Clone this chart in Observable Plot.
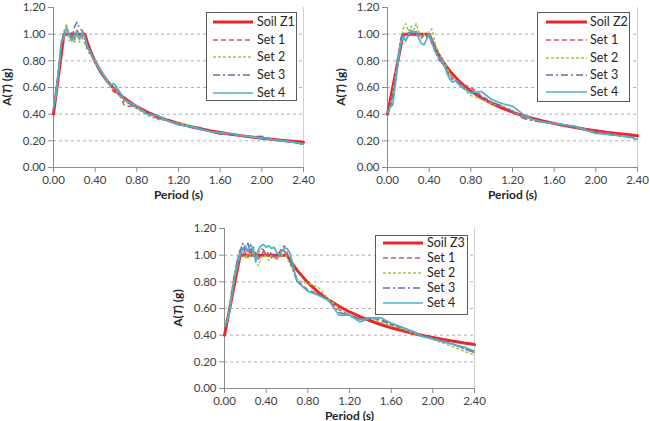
<!DOCTYPE html>
<html>
<head>
<meta charset="utf-8">
<script src="https://cdn.jsdelivr.net/npm/d3@7"></script>
<script src="https://cdn.jsdelivr.net/npm/@observablehq/plot@0.6"></script>
<style>
  html, body { margin: 0; padding: 0; background: #fff; }
  body { width: 650px; height: 421px; overflow: hidden; position: relative; font-family: Lato, "Open Sans", sans-serif; }
  .panel { position: absolute; }
  .legend { position: absolute; box-sizing: border-box; border: 1px solid #5a5a5a; background: #fff; }
</style>
</head>
<body>
<script>
// Periods (s) at which every spectrum is sampled
const periods = [
  0, 0.025, 0.05, 0.075, 0.1, 0.125, 0.15, 0.175, 0.2, 0.225, 0.25, 0.275, 0.3, 0.325, 0.35,
  0.375, 0.4, 0.425, 0.45, 0.475, 0.5, 0.525, 0.55, 0.575, 0.6, 0.625, 0.65, 0.675, 0.7,
  0.8, 0.9, 1.0, 1.1, 1.2, 1.3, 1.4, 1.5, 1.6, 1.7, 1.8, 1.9, 2.0, 2.1, 2.2, 2.3, 2.4
];

// Design spectra A(T) (g)
const soilZ1 = [0.40,0.55,0.70,0.85,1.00,1.00,1.00,1.00,1.00,1.00,1.00,1.00,1.00,0.938,0.884,0.837,0.794,0.757,0.723,0.692,0.664,0.639,0.616,0.594,0.574,0.556,0.539,0.523,0.508,0.456,0.415,0.382,0.354,0.330,0.310,0.292,0.276,0.262,0.250,0.239,0.229,0.219,0.211,0.203,0.196,0.189];
const soilZ2 = [0.40,0.50,0.60,0.70,0.80,0.90,1.00,1.00,1.00,1.00,1.00,1.00,1.00,1.00,1.00,1.00,1.00,0.953,0.910,0.872,0.837,0.804,0.775,0.748,0.723,0.700,0.678,0.658,0.639,0.574,0.523,0.480,0.445,0.415,0.389,0.367,0.347,0.330,0.314,0.300,0.287,0.276,0.265,0.256,0.247,0.238];
const soilZ3 = [0.40,0.50,0.60,0.70,0.80,0.90,1.00,1.00,1.00,1.00,1.00,1.00,1.00,1.00,1.00,1.00,1.00,1.00,1.00,1.00,1.00,1.00,1.00,1.00,1.00,0.968,0.938,0.910,0.884,0.794,0.723,0.664,0.616,0.574,0.539,0.508,0.480,0.456,0.435,0.415,0.398,0.382,0.367,0.354,0.341,0.330];

// Mean spectra of the record sets, soil Z1
const z1Set1 = [0.44,0.56,0.72,0.92,0.97,1.02,0.98,1.01,0.96,1.03,1.00,0.98,0.95,0.92,0.87,0.82,0.79,0.75,0.71,0.69,0.67,0.64,0.60,0.57,0.56,0.55,0.52,0.47,0.46,0.46,0.41,0.38,0.35,0.33,0.31,0.29,0.27,0.25,0.25,0.24,0.23,0.22,0.21,0.20,0.19,0.18];
const z1Set2 = [0.46,0.58,0.75,0.95,1.02,1.08,0.95,0.98,0.93,1.00,0.94,0.97,0.93,0.90,0.86,0.82,0.78,0.76,0.74,0.71,0.68,0.63,0.61,0.59,0.58,0.55,0.53,0.51,0.49,0.44,0.39,0.36,0.35,0.33,0.32,0.29,0.27,0.26,0.25,0.24,0.23,0.225,0.21,0.20,0.19,0.17];
const z1Set3 = [0.42,0.55,0.74,0.93,1.00,1.04,1.00,0.97,1.05,1.09,1.04,1.03,0.97,0.88,0.85,0.83,0.80,0.76,0.72,0.70,0.67,0.64,0.62,0.60,0.58,0.56,0.54,0.50,0.49,0.45,0.40,0.37,0.35,0.32,0.31,0.30,0.27,0.25,0.25,0.24,0.23,0.235,0.21,0.20,0.19,0.175];
const z1Set4 = [0.45,0.55,0.73,0.94,0.98,1.05,1.00,0.95,0.99,1.02,0.96,1.01,0.98,0.91,0.87,0.83,0.80,0.76,0.73,0.70,0.66,0.63,0.62,0.63,0.61,0.58,0.55,0.51,0.50,0.46,0.40,0.39,0.35,0.32,0.31,0.29,0.27,0.26,0.255,0.24,0.23,0.22,0.21,0.20,0.19,0.175];

// Soil Z2
const z2Set1 = [0.40,0.45,0.52,0.66,0.78,0.92,1.00,0.95,1.01,0.98,1.02,0.99,1.00,0.97,1.00,0.99,0.98,0.93,0.90,0.85,0.81,0.78,0.76,0.72,0.69,0.67,0.66,0.65,0.63,0.60,0.54,0.49,0.46,0.42,0.38,0.36,0.34,0.33,0.32,0.30,0.29,0.27,0.26,0.25,0.235,0.22];
const z2Set2 = [0.41,0.46,0.55,0.68,0.82,0.95,1.04,1.08,1.02,1.06,1.03,1.08,1.02,0.98,1.00,0.97,1.02,1.04,0.96,0.88,0.85,0.82,0.78,0.74,0.70,0.68,0.66,0.64,0.61,0.54,0.51,0.48,0.46,0.43,0.38,0.35,0.34,0.33,0.32,0.30,0.28,0.26,0.25,0.24,0.23,0.21];
const z2Set3 = [0.40,0.46,0.54,0.66,0.80,0.96,1.01,1.00,0.98,1.02,1.00,1.03,0.98,0.97,0.99,0.98,1.00,0.95,0.90,0.84,0.80,0.79,0.75,0.71,0.67,0.66,0.65,0.64,0.62,0.56,0.53,0.49,0.46,0.42,0.37,0.35,0.34,0.33,0.32,0.30,0.28,0.26,0.25,0.24,0.23,0.21];
const z2Set4 = [0.41,0.45,0.47,0.62,0.77,0.92,0.98,0.95,0.99,1.03,1.01,1.02,0.97,0.93,0.92,0.96,1.00,0.95,0.88,0.84,0.82,0.80,0.76,0.70,0.66,0.64,0.65,0.63,0.61,0.56,0.57,0.51,0.48,0.46,0.40,0.36,0.34,0.33,0.32,0.31,0.28,0.255,0.25,0.24,0.235,0.21];

// Soil Z3
const z3Set1 = [0.48,0.50,0.60,0.74,0.86,0.96,1.04,1.00,1.08,0.98,1.06,1.00,1.02,0.97,1.00,1.03,0.99,1.01,0.98,1.00,0.97,1.02,1.05,1.07,1.02,0.97,0.92,0.86,0.81,0.74,0.71,0.66,0.59,0.55,0.52,0.53,0.51,0.48,0.45,0.43,0.40,0.38,0.36,0.33,0.30,0.27];
const z3Set2 = [0.49,0.52,0.62,0.78,0.88,0.95,1.02,1.05,0.97,1.03,0.99,1.02,0.95,0.92,0.98,1.00,0.99,0.96,1.00,0.98,0.97,0.99,1.00,1.03,0.98,0.94,0.90,0.85,0.81,0.79,0.76,0.67,0.60,0.56,0.52,0.53,0.50,0.47,0.45,0.42,0.39,0.37,0.34,0.31,0.28,0.25];
const z3Set3 = [0.47,0.50,0.61,0.75,0.87,0.97,1.03,1.09,1.01,1.09,1.00,1.07,0.99,1.02,1.05,1.04,1.00,1.03,1.01,0.99,1.00,1.02,1.04,1.03,1.01,0.96,0.91,0.85,0.80,0.73,0.71,0.66,0.57,0.55,0.52,0.53,0.52,0.48,0.46,0.43,0.40,0.37,0.35,0.33,0.30,0.27];
const z3Set4 = [0.46,0.50,0.58,0.72,0.84,0.93,1.00,1.05,1.07,1.03,1.08,1.05,0.95,1.04,1.07,1.08,1.06,1.07,1.05,1.06,1.02,1.00,1.03,1.05,1.05,1.02,0.95,0.87,0.80,0.73,0.70,0.66,0.55,0.55,0.50,0.53,0.53,0.49,0.46,0.43,0.39,0.37,0.35,0.33,0.31,0.28];

// Axis ticks
const xTicks = [0, 0.4, 0.8, 1.2, 1.6, 2.0, 2.4];
const yTicks = [0, 0.2, 0.4, 0.6, 0.8, 1.0, 1.2];
const gridTicks = [0.2, 0.4, 0.6, 0.8, 1.0];

const setNames = ["Set 1", "Set 2", "Set 3", "Set 4"];

// Series styling: design spectrum first, then the four sets
const styles = [
  { stroke: "#e8262b", width: 3, dash: null },
  { stroke: "#d8506a", width: 1.5, dash: "5,3" },
  { stroke: "#a9c447", width: 1.5, dash: "3,2" },
  { stroke: "#7767a8", width: 1.5, dash: "7,3,2,3" },
  { stroke: "#4cb1c9", width: 1.7, dash: null }
];

const panels = [
  { soilName: "Soil Z1", soil: soilZ1, sets: [z1Set1, z1Set2, z1Set3, z1Set4], left: 0, top: 1,
    legend: { left: 206, top: 12, width: 91, height: 89, rows: [22, 40, 57, 75, 93], x0: 213, x1: 253, tx: 257 } },
  { soilName: "Soil Z2", soil: soilZ2, sets: [z2Set1, z2Set2, z2Set3, z2Set4], left: 334, top: 1,
    legend: { left: 537, top: 12, width: 93, height: 90, rows: [22, 40, 58, 75, 92], x0: 546, x1: 587, tx: 590 } },
  { soilName: "Soil Z3", soil: soilZ3, sets: [z3Set1, z3Set2, z3Set3, z3Set4], left: 171, top: 222,
    legend: { left: 375, top: 235, width: 93, height: 80, rows: [243, 258, 273, 288, 303], x0: 383, x1: 423, tx: 427 } }
];

const fmt = d3.format(".2f");
const axisGray = "#8c8c8c";
const fontStack = "Lato, 'Open Sans', sans-serif";

function drawPanel(p) {
  const series = [p.soil, ...p.sets];
  const lines = series.map((vals, k) =>
    Plot.line(periods, {
      x: (d) => d,
      y: (d, i) => vals[i],
      stroke: styles[k].stroke,
      strokeWidth: styles[k].width,
      strokeDasharray: styles[k].dash,
      strokeLinejoin: "round",
      strokeLinecap: k === 0 ? "round" : "butt"
    })
  );

  const chart = Plot.plot({
    width: 310,
    height: 204,
    marginLeft: 53,
    marginRight: 7,
    marginTop: 6,
    marginBottom: 38,
    style: { fontFamily: fontStack, fontSize: "11.5px", color: "#404040", background: "transparent", overflow: "visible" },
    x: { domain: [0, 2.4] },
    y: { domain: [0, 1.2] },
    marks: [
      Plot.ruleY(gridTicks, { stroke: "#a6a6a6", strokeWidth: 0.9, strokeDasharray: "3,3" }),
      Plot.ruleX([2.4], { stroke: "#d0d0d0", strokeWidth: 1 }),
      Plot.axisX({ ticks: xTicks, tickFormat: fmt, tickSize: 5, tickPadding: 3, stroke: axisGray, label: null }),
      Plot.axisY({ ticks: yTicks, tickFormat: fmt, tickSize: 5, tickPadding: 3, stroke: axisGray, label: null }),
      Plot.ruleX([0], { stroke: axisGray }),
      Plot.ruleY([0], { stroke: axisGray }),
      Plot.text(["Period (s)"], { frameAnchor: "bottom", dy: 31, fontWeight: "bold", fontSize: 12, fill: "#262626" }),
      ...lines
    ]
  });

  // Rotated y-axis title with an italic T
  const svg = d3.select(chart);
  const t = svg.append("text")
    .attr("transform", "translate(11,86) rotate(-90)")
    .attr("text-anchor", "middle")
    .attr("font-weight", "bold")
    .attr("font-size", 12)
    .attr("fill", "#262626");
  t.append("tspan").text("A(");
  t.append("tspan").attr("font-style", "italic").text("T");
  t.append("tspan").text(") (g)");

  const wrap = document.createElement("div");
  wrap.className = "panel";
  wrap.style.left = p.left + "px";
  wrap.style.top = p.top + "px";
  wrap.appendChild(chart);
  document.body.appendChild(wrap);

  // Legend box
  const L = p.legend;
  const box = document.createElement("div");
  box.className = "legend";
  box.style.left = L.left + "px";
  box.style.top = L.top + "px";
  box.style.width = L.width + "px";
  box.style.height = L.height + "px";
  document.body.appendChild(box);

  const names = [p.soilName, ...setNames];
  const sw = d3.select(document.body).append("svg")
    .style("position", "absolute").style("left", "0px").style("top", "0px")
    .attr("width", 650).attr("height", 421).style("pointer-events", "none");
  names.forEach((name, k) => {
    const y = L.rows[k];
    sw.append("line")
      .attr("x1", L.x0).attr("x2", L.x1).attr("y1", y).attr("y2", y)
      .attr("stroke", styles[k].stroke)
      .attr("stroke-width", styles[k].width)
      .attr("stroke-dasharray", styles[k].dash);
    sw.append("text")
      .attr("x", L.tx).attr("y", y).attr("dy", "0.35em")
      .attr("font-family", fontStack)
      .attr("font-size", 12.5)
      .attr("fill", "#262626")
      .text(name);
  });
}

panels.forEach(drawPanel);
</script>
</body>
</html>
